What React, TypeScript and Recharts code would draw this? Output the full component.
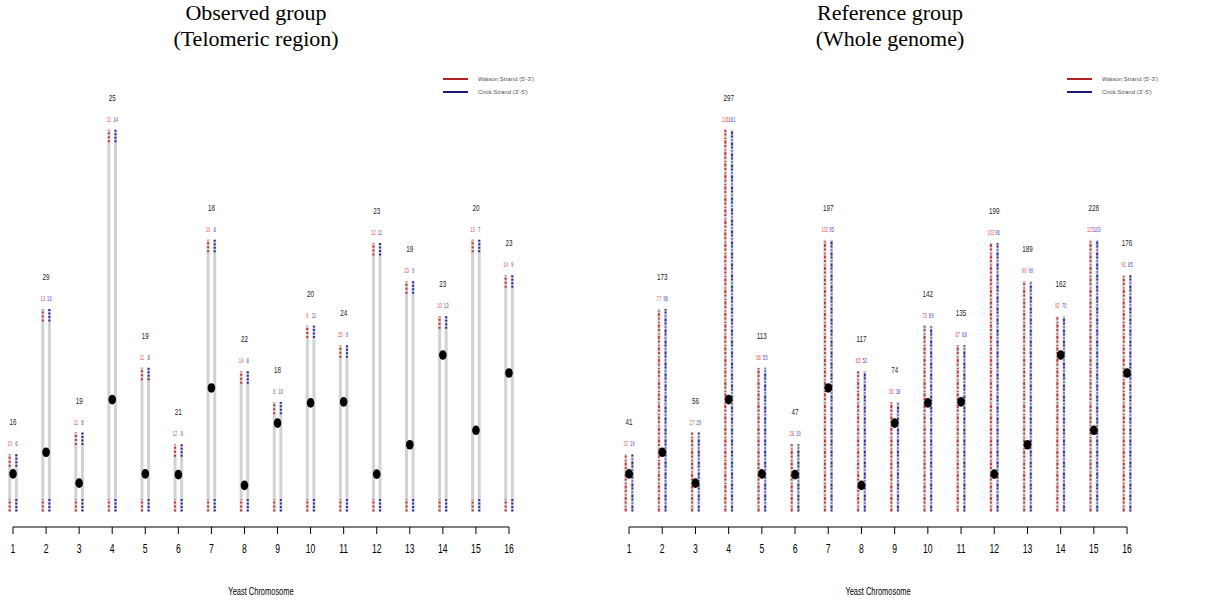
import React from 'react';
import { ComposedChart, XAxis, YAxis, Scatter, ReferenceLine } from 'recharts';

const chromosomes = [1, 2, 3, 4, 5, 6, 7, 8, 9, 10, 11, 12, 13, 14, 15, 16];
// chromosome length and centromere position, kb
const chromLengthKb = [230, 813, 317, 1532, 577, 270, 1091, 563, 440, 746, 667, 1078, 924, 784, 1091, 948];
const centromereKb = [151, 238, 114, 449, 151, 148, 496, 105, 355, 436, 440, 150, 268, 628, 326, 556];

const observedTotal = [16, 29, 19, 25, 19, 21, 18, 22, 18, 20, 24, 23, 19, 23, 20, 23];
const observedWatson = [10, 13, 11, 11, 11, 12, 10, 14, 8, 9, 15, 12, 10, 10, 13, 14];
const observedCrick = [6, 16, 8, 14, 8, 9, 8, 8, 10, 11, 9, 11, 9, 13, 7, 9];

const referenceTotal = [41, 173, 56, 297, 113, 47, 197, 117, 74, 142, 135, 199, 189, 162, 228, 176];
const referenceWatson = [22, 77, 27, 136, 58, 28, 102, 65, 36, 73, 67, 103, 90, 92, 125, 91];
const referenceCrick = [19, 96, 29, 161, 55, 19, 95, 52, 38, 69, 68, 96, 99, 70, 103, 85];

const TELOMERE_KB = 50;
const STRAND_OFFSET = 0.1;
const RED = '#cc3333';
const BLUE = '#2b2ba6';
const GREY = '#d2d2d2';
const NARROW = '"Liberation Sans Narrow", "Arial Narrow", "Liberation Sans", Arial, sans-serif';

type PanelProps = {
  left: number;
  margin: { top: number; right: number; bottom: number; left: number };
  title: [string, string];
  titleX: number;
  legendX: number;
  totals: number[];
  watson: number[];
  crick: number[];
  whole: boolean;
};

// condensed text drawn at the point the library computed
const textShape = (dy: number, color: string, size: number, squeeze: number) => (p: any) => (
  <text
    transform={`translate(${p.cx},${p.cy - dy}) scale(${squeeze},1)`}
    x={0}
    y={0}
    textAnchor="middle"
    fontSize={size}
    fill={color}
    fontFamily={NARROW}
  >
    {p.payload.v}
  </text>
);

const NarrowTick = (p: any) => (
  <text
    transform={`translate(${p.x},${p.y + 9}) scale(0.72,1)`}
    textAnchor="middle"
    fontSize={12}
    fill="#000"
    fontFamily={NARROW}
  >
    {p.payload.value}
  </text>
);

const AxisTitle = (p: any) => {
  const vb = p.viewBox;
  return (
    <text
      transform={`translate(${vb.x + vb.width / 2},${vb.y + vb.height - 9}) scale(0.68,1)`}
      textAnchor="middle"
      fontSize={11}
      fill="#000"
      fontFamily={NARROW}
    >
      Yeast Chromosome
    </text>
  );
};

function Panel({ left, margin, title, titleX, legendX, totals, watson, crick, whole }: PanelProps) {
  const centro = chromosomes.map((c, i) => ({ x: c, y: centromereKb[i] }));
  const totalLabels = chromosomes.map((c, i) => ({ x: c, y: chromLengthKb[i], v: totals[i] }));
  const wLabels = chromosomes.map((c, i) => ({ x: c - STRAND_OFFSET, y: chromLengthKb[i], v: watson[i] }));
  const cLabels = chromosomes.map((c, i) => ({ x: c + STRAND_OFFSET, y: chromLengthKb[i], v: crick[i] }));

  const marks: React.ReactNode[] = [];
  chromosomes.forEach((c, i) => {
    const len = chromLengthKb[i];
    [
      { x: c - STRAND_OFFSET, color: RED, dash: whole ? '3 1.5 1 2.5 2 1.5' : '2 2' },
      { x: c + STRAND_OFFSET, color: BLUE, dash: whole ? '2 1 3 2 1 2' : '2 1.5' },
    ].forEach((s, k) => {
      marks.push(
        <ReferenceLine key={`g${i}-${k}`} segment={[{ x: s.x, y: 0 }, { x: s.x, y: len }]} stroke={GREY} strokeWidth={3} />
      );
      const spans = whole ? [[0, len]] : [[0, TELOMERE_KB], [len - TELOMERE_KB, len]];
      spans.forEach((sp, j) =>
        marks.push(
          <ReferenceLine
            key={`m${i}-${k}-${j}`}
            segment={[{ x: s.x, y: sp[0] }, { x: s.x, y: sp[1] }]}
            stroke={s.color}
            strokeWidth={whole ? 1.8 : 2}
            strokeDasharray={s.dash}
          />
        )
      );
    });
  });

  return (
    <div style={{ position: 'absolute', left, top: 0, width: 609, height: 604 }}>
      <div
        style={{
          position: 'absolute', left: titleX - 200, top: 0, width: 400, textAlign: 'center',
          fontFamily: '"Liberation Serif", "Times New Roman", serif', fontSize: 22, lineHeight: '26px', color: '#000',
        }}
      >
        {title[0]}
        <br />
        {title[1]}
      </div>
      <svg style={{ position: 'absolute', left: legendX, top: 72 }} width={110} height={28}>
        <line x1={0} x2={25} y1={7} y2={7} stroke="#b22222" strokeWidth={2} />
        <line x1={0} x2={25} y1={20} y2={20} stroke="#1a1a80" strokeWidth={2} />
        <text x={35} y={9} fontSize={6} fill="#555" fontFamily={NARROW}>Watson Strand (5'-3')</text>
        <text x={35} y={22} fontSize={6} fill="#555" fontFamily={NARROW}>Crick Strand (3'-5')</text>
      </svg>
      <ComposedChart width={609} height={604} margin={margin} style={{ position: 'absolute', left: 0, top: 0 }}>
        <XAxis
          type="number"
          dataKey="x"
          domain={[0.8, 16.2]}
          ticks={chromosomes}
          allowDataOverflow
          axisLine={false}
          tickLine={{ stroke: '#000' }}
          tickSize={7}
          tickMargin={10}
          height={77}
          tick={NarrowTick}
          label={<AxisTitle />}
        />
        <YAxis type="number" dataKey="y" domain={[-62, 1800]} allowDataOverflow hide width={0} />
        <ReferenceLine segment={[{ x: 1, y: -62 }, { x: 16, y: -62 }]} stroke="#000" strokeWidth={1} />
        {marks}
        <Scatter
          data={centro}
          isAnimationActive={false}
          shape={(p: any) => <ellipse cx={p.cx} cy={p.cy} rx={3.8} ry={4.8} fill="#000" />}
        />
        <Scatter data={totalLabels} isAnimationActive={false} shape={textShape(29, '#222', 9, 0.7)} />
        <Scatter data={wLabels} isAnimationActive={false} shape={textShape(8, '#d9534f', 7, 0.6)} />
        <Scatter data={cLabels} isAnimationActive={false} shape={textShape(8, '#4a4ac0', 7, 0.6)} />
      </ComposedChart>
    </div>
  );
}

export default function App() {
  return (
    <div style={{ position: 'absolute', left: 0, top: 0, width: 1218, height: 604, background: '#fff', overflow: 'hidden' }}>
      <Panel
        left={0}
        margin={{ top: 63, right: 93.4, bottom: 0, left: 6.4 }}
        title={['Observed group', '(Telomeric region)']}
        titleX={256}
        legendX={443}
        totals={observedTotal}
        watson={observedWatson}
        crick={observedCrick}
        whole={false}
      />
      <Panel
        left={609}
        margin={{ top: 63, right: 84.3, bottom: 0, left: 13.4 }}
        title={['Reference group', '(Whole genome)']}
        titleX={281}
        legendX={458}
        totals={referenceTotal}
        watson={referenceWatson}
        crick={referenceCrick}
        whole={true}
      />
    </div>
  );
}
